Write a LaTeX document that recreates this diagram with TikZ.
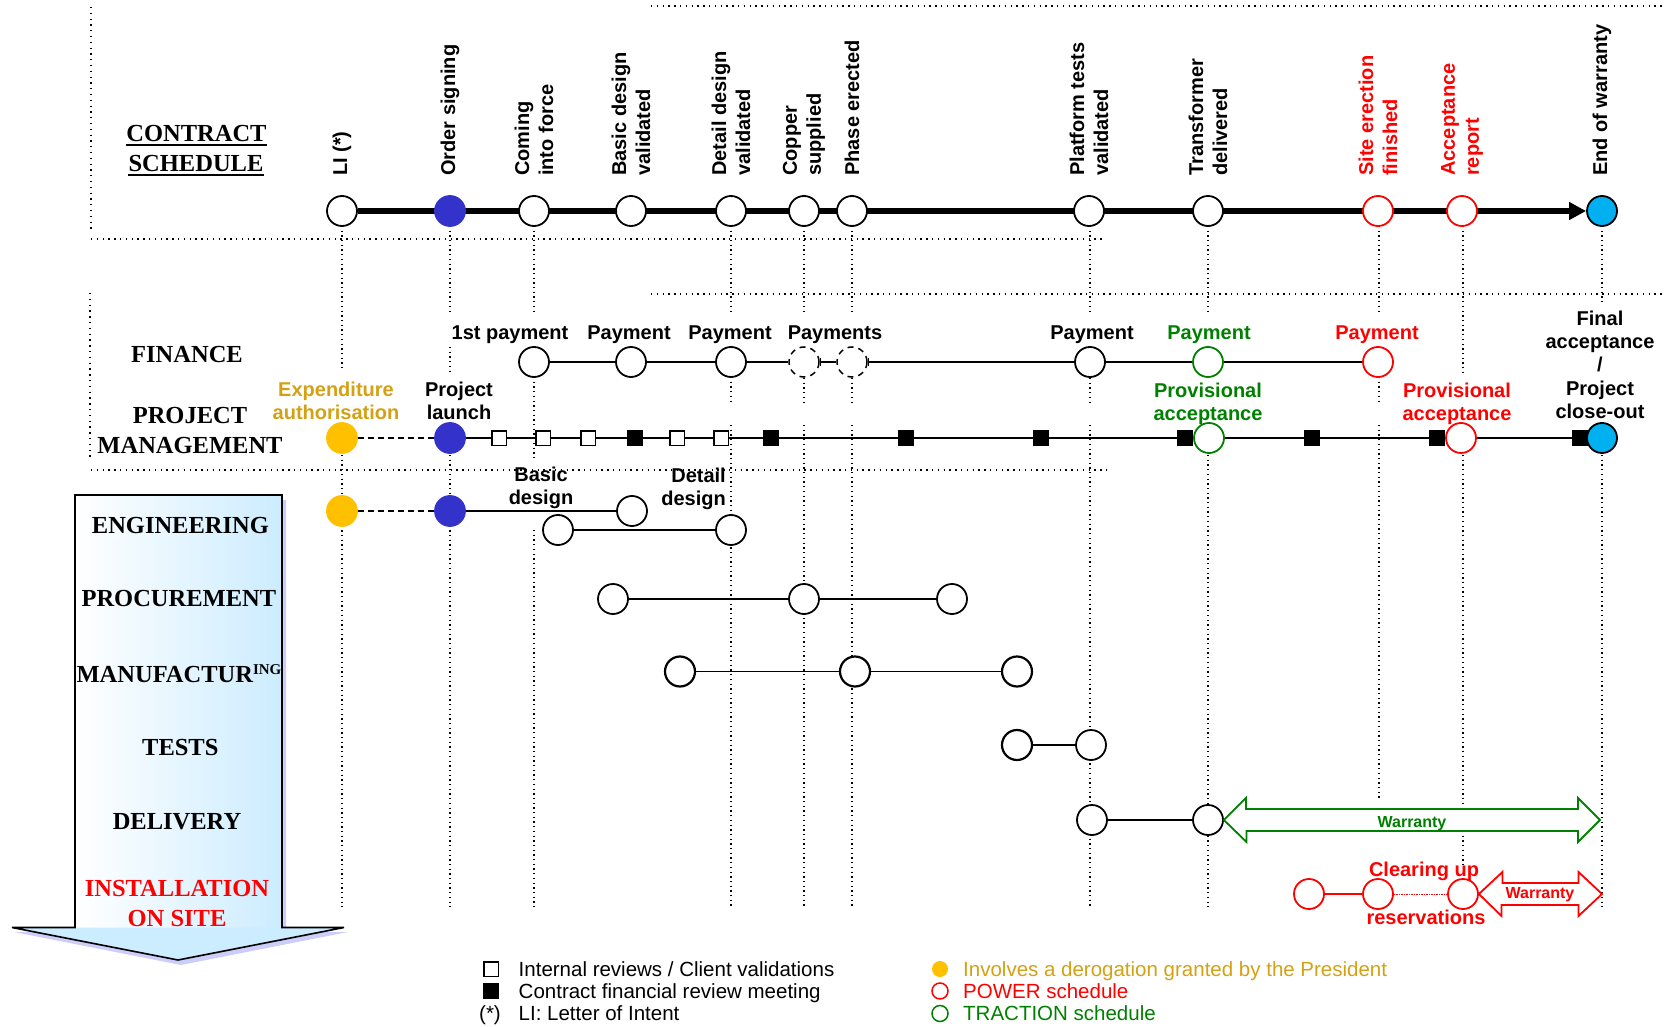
\documentclass[tikz,border=0pt]{standalone}
\usepackage{fontspec}
\setmainfont{Liberation Sans}
\newfontfamily\serifbf{Liberation Serif}
\usetikzlibrary{arrows.meta}
\definecolor{cblue}{RGB}{51,51,204}
\definecolor{cyel}{RGB}{255,192,0}
\definecolor{ccyan}{RGB}{0,176,240}
\definecolor{cgreen}{RGB}{0,128,0}
\definecolor{cgold}{RGB}{212,160,20}
\definecolor{lblue}{RGB}{204,236,255}
\definecolor{shadowc}{RGB}{205,205,250}
\pgfdeclarelayer{bg}
\pgfsetlayers{bg,main}
\tikzset{
  ms/.style={circle, draw=black, line width=1.8pt, fill=white, minimum size=30pt, inner sep=0pt},
  msblue/.style={ms, fill=cblue, draw=cblue},
  msyel/.style={ms, fill=cyel, draw=cyel},
  mscyan/.style={ms, fill=ccyan, draw=black},
  msred/.style={ms, draw=red},
  msgreen/.style={ms, draw=cgreen},
  msdash/.style={ms, line width=1.5pt, dash pattern=on 6pt off 5pt},
  wsq/.style={rectangle, draw=black, fill=white, line width=1.5pt, minimum size=14.5pt, inner sep=0pt},
  bsq/.style={rectangle, fill=black, minimum size=16pt, inner sep=0pt},
  lgc/.style={circle, line width=1.5pt, minimum size=16pt, inner sep=0pt},
  rlab/.style={rotate=90, anchor=west, align=left, font=\fontsize{20}{24}\selectfont\bfseries, inner sep=0pt},
  lab/.style={font=\fontsize{20}{23.3}\selectfont\bfseries, inner sep=0pt, align=center},
  blab/.style={lab, anchor=base},
  rowt/.style={font=\fontsize{24.5}{29}\selectfont\serifbf\bfseries, inner sep=0pt, anchor=base},
  legt/.style={font=\fontsize{20.5}{22}\selectfont, inner sep=0pt, anchor=base west},
  gridl/.style={line width=1.3pt, dash pattern=on 1.3pt off 3.4pt},
  bordl/.style={line width=1.3pt, dash pattern=on 1.3pt off 4.5pt},
  conn/.style={line width=1.6pt},
  dconn/.style={line width=1.6pt, dash pattern=on 6pt off 4pt},
  warr/.style={font=\fontsize{16}{18}\selectfont\bfseries, inner sep=0pt, anchor=base},
}
\begin{document}
\begin{tikzpicture}[x=1pt, y=-1pt]
\useasboundingbox (0,0) rectangle (1666,1027);

% ---------- table borders (dotted) ----------
\draw[bordl] (91,7) -- (91,233);
\draw[bordl] (91,239) -- (1105,239);
\draw[bordl] (651,6) -- (1666,6);
\draw[bordl] (90,293) -- (90,460);
\draw[bordl] (651,294) -- (1666,294);
\draw[bordl] (91,470) -- (1110,470);

% ---------- vertical milestone grid lines ----------
\foreach \x/\a/\b in {342/226/370, 342/455/907,
  450/226/315, 450/347/371, 450/455/907,
  534/226/315, 534/377/460, 534/530/907,
  731/226/315, 731/377/403, 731/425/907,
  804/226/315, 804/378/403, 804/425/907,
  852/226/315, 852/378/403, 852/425/907,
  1090/226/315, 1090/378/403, 1090/425/907,
  1208/226/315, 1208/455/907,
  1379/226/315, 1379/377/403, 1379/425/800,
  1463/226/373, 1463/455/865,
  1602/226/302, 1602/455/907}
  \draw[gridl] (\x,\a) -- (\x,\b);

% ---------- big left arrow ----------
\fill[shadowc] (78,500) -- (286,500) -- (286,932) -- (348,932) -- (181,965) -- (14,932) -- (78,932) -- cycle;
\shade[left color=white, right color=lblue] (75,495) rectangle (282,927.5);
\fill[lblue] (12,927.5) -- (344,927.5) -- (178,960) -- cycle;
\draw[line width=1.6pt, line join=miter] (75,927.5) -- (75,495) -- (282,495) -- (282,927.5) -- (344,927.5) -- (178,960) -- (12,927.5) -- cycle;

% ---------- row titles ----------
\node[rowt] (tc1) at (196.5,141.7) {CONTRACT};
\node[rowt] (tc2) at (196,171.7) {SCHEDULE};
\draw[line width=2pt] ([yshift=-3.5pt]tc1.base west) -- ([yshift=-3.5pt]tc1.base east);
\draw[line width=2pt] ([yshift=-3.5pt]tc2.base west) -- ([yshift=-3.5pt]tc2.base east);
\node[rowt] (tfin) at (187,362.7) {FINANCE};
\node[rowt] (tpm1) at (190,423.3) {PROJECT};
\node[rowt] (tpm2) at (190,453.3) {MANAGEMENT};
\node[rowt] (teng) at (180.4,533.2) {ENGINEERING};
\node[rowt] (tpro) at (178.9,606.8) {PROCUREMENT};
\node[rowt] (tman) at (179,682) {MANUFACTUR\raisebox{8pt}{\fontsize{15}{15}\selectfont ING}};
\node[rowt] (ttes) at (180.3,755) {TESTS};
\node[rowt] (tdel) at (177,829.9) {DELIVERY};
\node[rowt, red] (tin1) at (177,896.3) {INSTALLATION};
\node[rowt, red] (tin2) at (177,926.5) {ON SITE};

% ---------- contract schedule ----------
\node[ms] (m1) at (342,211) {};
\node[msblue] (m2) at (450,211) {};
\node[ms] (m3) at (534,211) {};
\node[ms] (m4) at (631,211) {};
\node[ms] (m5) at (731,211) {};
\node[ms] (m6) at (804,211) {};
\node[ms] (m7) at (852,211) {};
\node[ms] (m8) at (1089,211) {};
\node[ms] (m9) at (1208,211) {};
\node[msred] (m10) at (1378,211) {};
\node[msred] (m11) at (1462,211) {};
\node[mscyan] (m12) at (1602,211) {};
\begin{pgfonlayer}{bg}
\draw[line width=5.5pt, -{Triangle[length=17pt,width=17pt]}] (m1.east) -- (m12.west);
\end{pgfonlayer}

\node[rlab] (l1) at (342,176) {LI (*)};
\node[rlab] (l2) at (450,176) {Order signing};
\node[rlab] (l3) at (534,176) {Coming\\into force};
\node[rlab] (l4) at (631,176) {Basic design\\validated};
\node[rlab] (l5) at (731,176) {Detail design\\validated};
\node[rlab] (l6) at (804,176) {Copper\\supplied};
\node[rlab] (l7) at (852,176) {Phase erected};
\node[rlab] (l8) at (1089,176) {Platform tests\\validated};
\node[rlab] (l9) at (1208,176) {Transformer\\delivered};
\node[rlab, red] (l10) at (1378,176) {Site erection\\finished};
\node[rlab, red] (l11) at (1462,176) {Acceptance\\report};
\node[rlab] (l12) at (1602,176) {End of warranty};

% ---------- finance ----------
\node[ms] (f1) at (534,362) {};
\node[ms] (f2) at (631,362) {};
\node[ms] (f3) at (731,362) {};
\node[msdash] (f4) at (804,362) {};
\node[msdash] (f5) at (852,362) {};
\node[ms] (f6) at (1090,362) {};
\node[msgreen] (f7) at (1208,362) {};
\node[msred] (f8) at (1378,362) {};
\draw[conn] (f1) -- (f2) -- (f3) -- (f4);
\draw[conn, {Bar[width=8pt]}-] (f4) -- (f5);
\draw[conn, {Bar[width=8pt]}-] (f5) -- (f6);
\draw[conn] (f6) -- (f7) -- (f8);
\node[blab] (fl1) at (510,339.5) {1st payment};
\node[blab] (fl2) at (629,339.5) {Payment};
\node[blab] (fl3) at (730,339.5) {Payment};
\node[blab] (fl4) at (835,339.5) {Payments};
\node[blab] (fl6) at (1092,339.5) {Payment};
\node[blab, cgreen] (fl7) at (1209,339.5) {Payment};
\node[blab, red] (fl8) at (1377,339.5) {Payment};

% ---------- project management ----------
\node[msyel] (p1) at (342,438) {};
\node[msblue] (p2) at (450,438) {};
\node[wsq] (s1) at (499,438) {};
\node[wsq] (s2) at (543,438) {};
\node[wsq] (s3) at (588,438) {};
\node[bsq] (s4) at (635,438) {};
\node[wsq] (s5) at (677,438) {};
\node[wsq] (s6) at (721,438) {};
\node[bsq] (s7) at (771,438) {};
\node[bsq] (s8) at (906,438) {};
\node[bsq] (s9) at (1041,438) {};
\node[bsq] (s10) at (1185,438) {};
\node[msgreen] (p3) at (1209,438) {};
\node[bsq] (s11) at (1312,438) {};
\node[bsq] (s12) at (1437,438) {};
\node[msred] (p4) at (1461,438) {};
\node[bsq] (s13) at (1580,438) {};
\node[mscyan] (p5) at (1602,438) {};
\draw[dconn] (p1) -- (p2);
\draw[conn] (p2) -- (s1) -- (s2) -- (s3) -- (s4) -- (s5) -- (s6) -- (s7) -- (s8) -- (s9) -- (s10);
\draw[conn] (p3) -- (s11) -- (s12);
\draw[conn] (p4) -- (s13);
\node[lab, cgold] (pl1) at (336,401.1) {Expenditure\\authorisation};
\node[lab] (pl2) at (459,401.1) {Project\\launch};
\node[lab, cgreen] (pl3) at (1208,403.6) {Provisional\\acceptance};
\node[lab, red] (pl4) at (1457,403.6) {Provisional\\acceptance};
\node[lab] (pl5) at (1600,364.7) {Final\\acceptance\\/\\Project\\close-out};

% ---------- engineering ----------
\node[msyel] (e1) at (342,511) {};
\node[msblue] (e2) at (450,511) {};
\node[ms] (e3) at (632,511) {};
\node[ms] (e4) at (558,530) {};
\node[ms] (e5) at (731,530) {};
\draw[dconn] (e1) -- (e2);
\draw[conn] (e2) -- (e3);
\draw[conn] (e4) -- (e5);
\node[lab] (el1) at (541,488) {Basic\\design};
\node[lab, align=right, anchor=east] (el2) at (726,488.8) {Detail\\design};

% ---------- procurement ----------
\node[ms] (r1) at (613,599) {};
\node[ms] (r2) at (804,599) {};
\node[ms] (r3) at (952,599) {};
\draw[conn] (r1) -- (r2) -- (r3);

% ---------- manufacturing ----------
\node[ms, line width=2.2pt] (u1) at (680,671.5) {};
\node[ms, line width=2.2pt] (u2) at (855,671.5) {};
\node[ms, line width=2.2pt] (u3) at (1017,671.5) {};
\draw[conn] (u1) -- (u2) -- (u3);

% ---------- tests ----------
\node[ms, line width=2.2pt] (t1) at (1017,745) {};
\node[ms] (t2) at (1091,745) {};
\draw[conn] (t1) -- (t2);

% ---------- delivery ----------
\node[ms] (d1) at (1092,820) {};
\node[ms] (d2) at (1208,820) {};
\draw[conn] (d1) -- (d2);
\draw[cgreen, line width=1.8pt, fill=white] (d2.east) -- ++(22,-22) -- ++(0,11) -- (1578,809) -- (1578,798) -- (1600,820) -- (1578,842) -- (1578,831) -- (1246.5,831) -- (1246.5,842) -- cycle;
\node[warr, cgreen] (wg) at (1412,827) {Warranty};

% ---------- installation on site ----------
\node[msred] (i1) at (1309,894) {};
\node[msred] (i2) at (1378,894) {};
\node[msred] (i3) at (1463,894) {};
\draw[red, line width=2.5pt] (i1) -- (i2);
\draw[red, line width=1pt, dash pattern=on 1.5pt off 1pt] (i2) -- (i3);
\draw[red, line width=1.8pt, fill=white] (i3.east) -- ++(23.5,-22) -- ++(0,11) -- (1578.5,883) -- (1578.5,872) -- (1602,894) -- (1578.5,916) -- (1578.5,905) -- (1501.5,905) -- (1501.5,916) -- cycle;
\node[warr, red] (wr) at (1540,898.8) {Warranty};
\node[blab, red] (cl1) at (1424,876) {Clearing up};
\node[blab, red] (cl2) at (1426,924.7) {reservations};

% ---------- legend ----------
\node[wsq] (lg1) at (491,969) {};
\node[bsq] (lg2) at (491,991) {};
\node[legt, anchor=base] (lg3) at (490,1020.6) {(*)};
\node[legt] (lt1) at (518.5,976) {Internal reviews / Client validations};
\node[legt] (lt2) at (518.5,998.6) {Contract financial review meeting};
\node[legt] (lt3) at (518.5,1020.6) {LI: Letter of Intent};
\node[lgc, fill=cyel] (lc1) at (940,969) {};
\node[lgc, draw=red] (lc2) at (940,991) {};
\node[lgc, draw=cgreen] (lc3) at (940,1013.5) {};
\node[legt, cgold] (lu1) at (963,976) {Involves a derogation granted by the President};
\node[legt, red] (lu2) at (963,998.6) {POWER schedule};
\node[legt, cgreen] (lu3) at (963,1020.6) {TRACTION schedule};
\end{tikzpicture}
\end{document}
